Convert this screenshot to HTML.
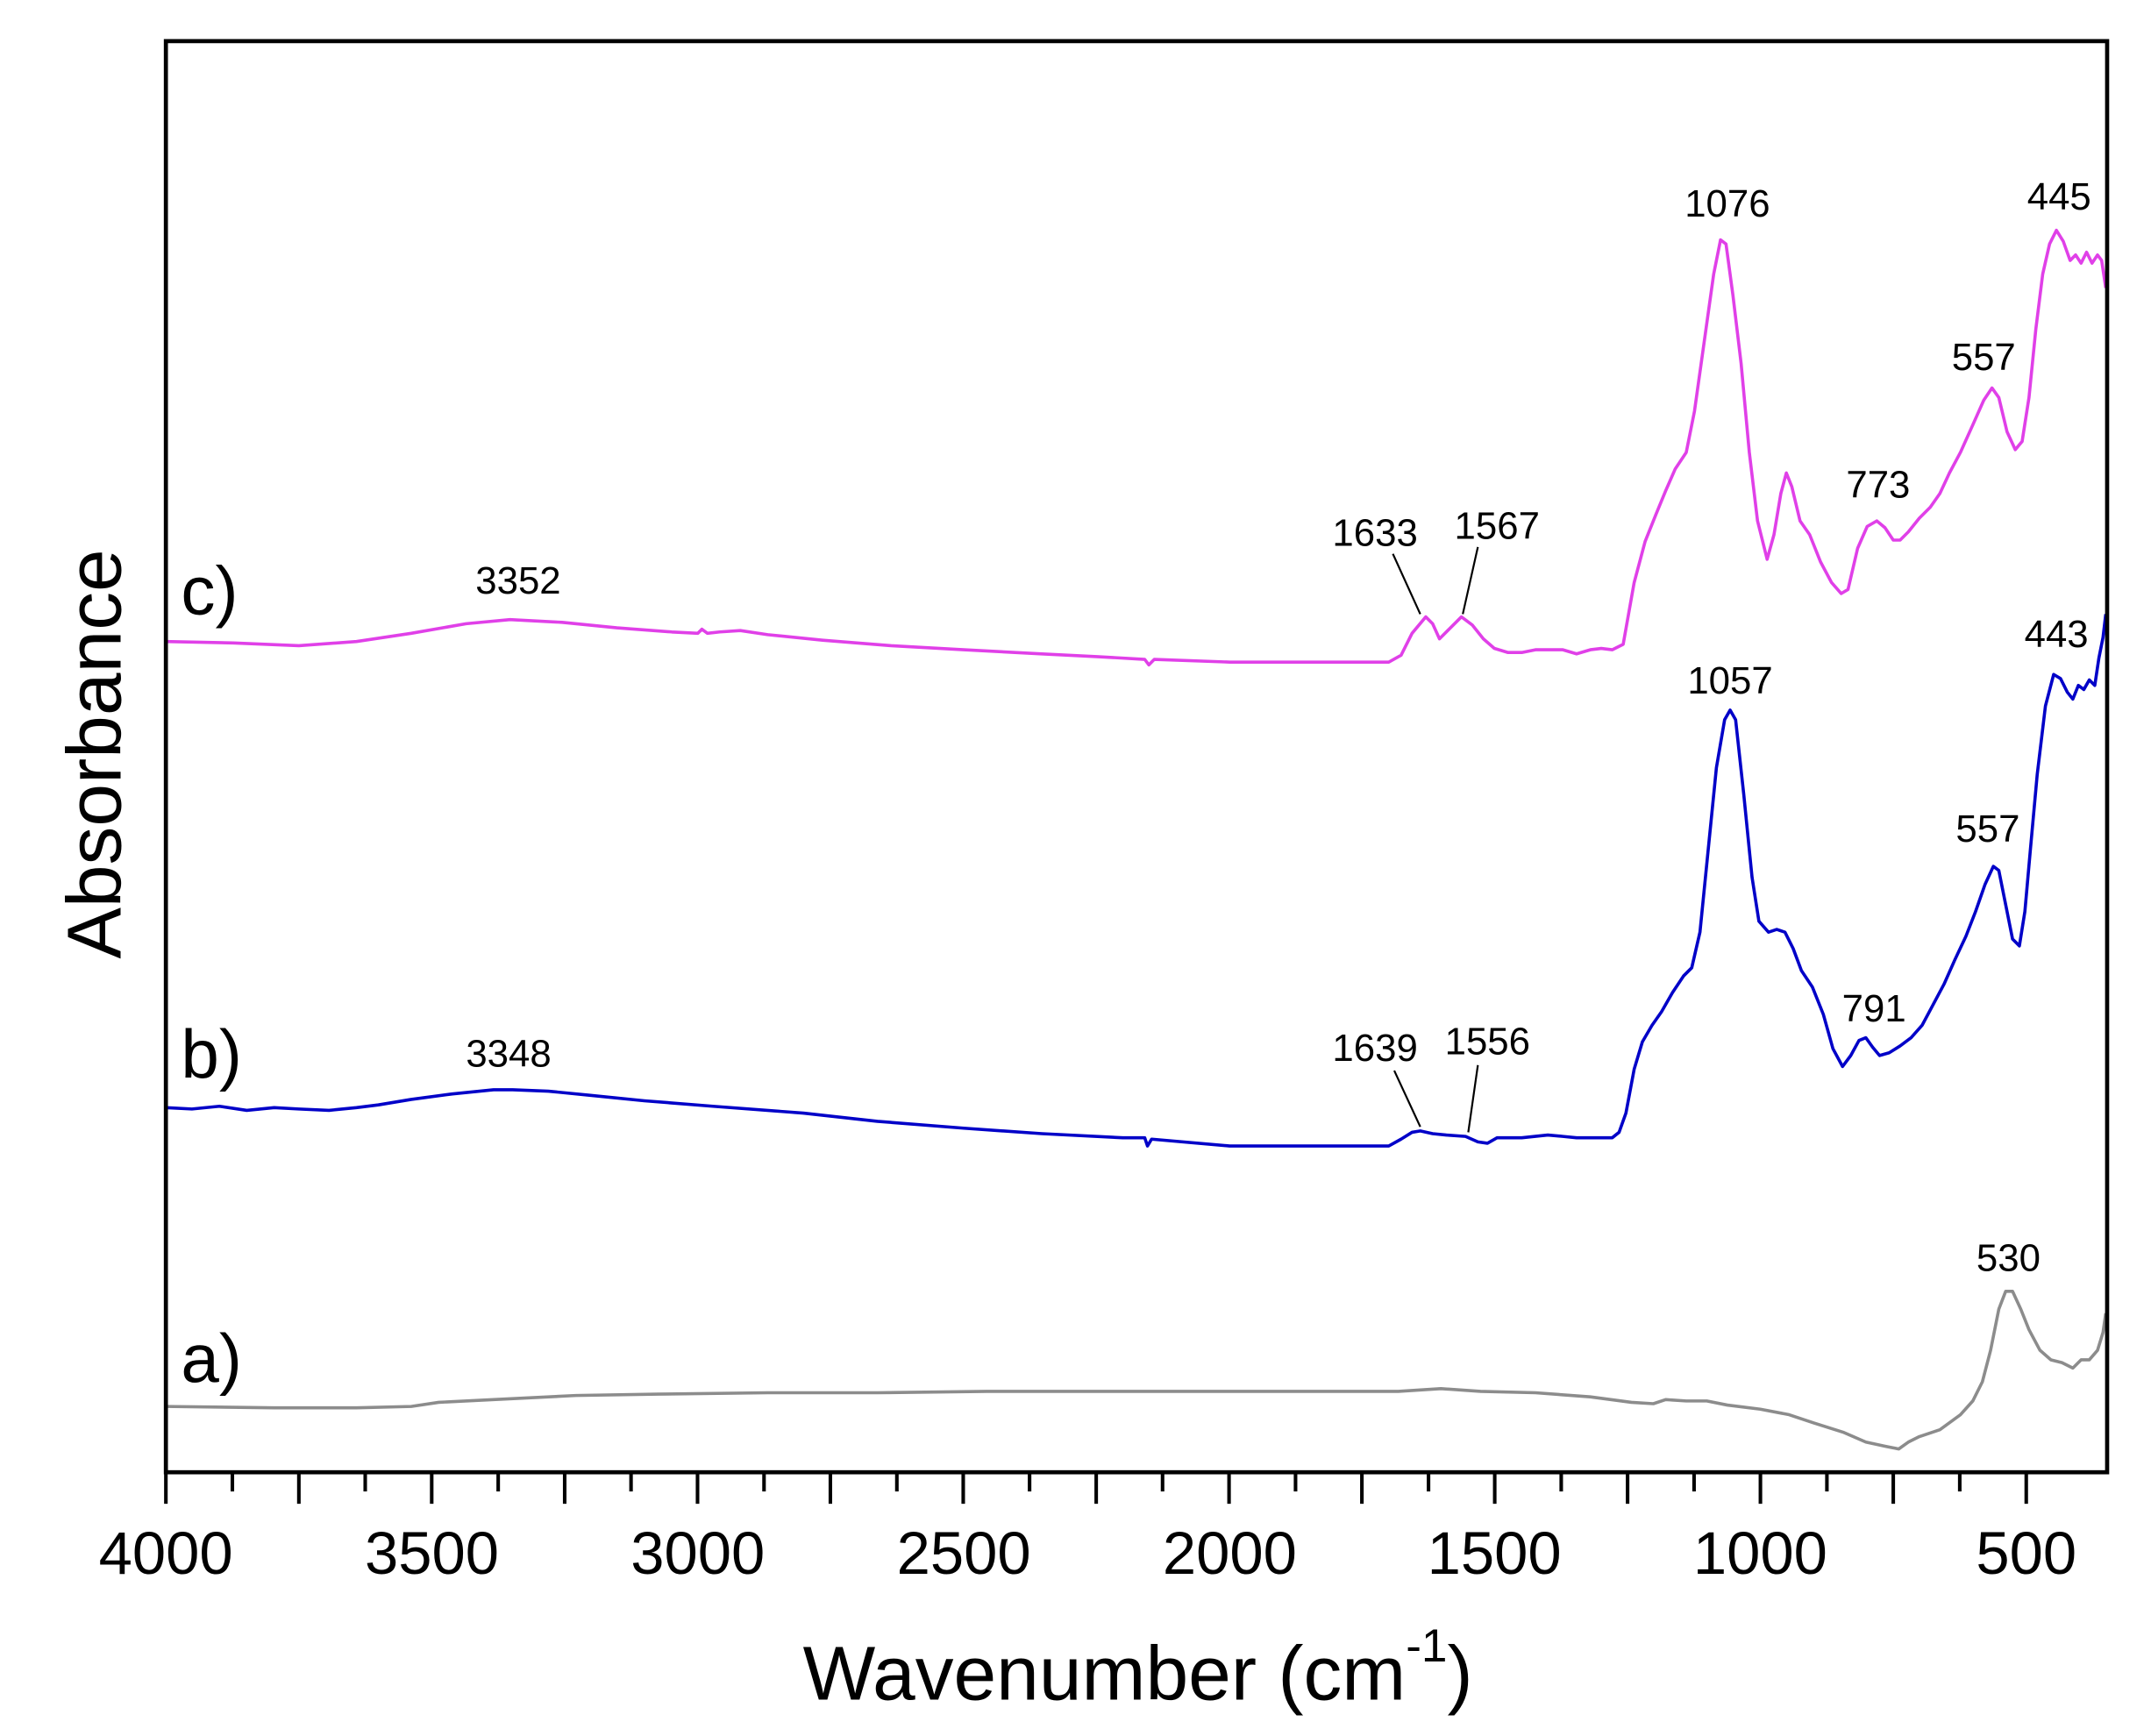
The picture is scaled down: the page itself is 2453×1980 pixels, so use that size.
<!DOCTYPE html>
<html><head><meta charset="utf-8"><style>
html,body{margin:0;padding:0;background:#fff;}
svg{display:block;}
text{font-family:"Liberation Sans",Arial,sans-serif;fill:#000;}
</style></head><body>
<svg width="2453" height="1980" viewBox="0 0 1569 1266.4" preserveAspectRatio="none" xmlns="http://www.w3.org/2000/svg">
<rect x="0" y="0" width="1569" height="1266.4" fill="#fff"/>
<!-- curves -->
<g fill="none" stroke-width="2.3" stroke-linejoin="round">
<path stroke="#e040e8" d="M121,468 L170,469 L218,471 L260,468 L300,462 L340,455 L372,452 L410,454 L450,458 L490,461 L509,462 L512,459 L516,462 L525,461 L540,460 L560,463 L600,467 L650,471 L703,474 L760,477 L800,479 L835,481 L838,485 L842,481 L897,483 L960,483 L1013,483 L1022,478 L1030,462 L1040,450 L1045,455 L1050,466 L1056,460 L1066,450 L1074,456 L1082,466 L1090,473 L1100,476 L1110,476 L1120,474 L1130,474 L1140,474 L1150,477 L1160,474 L1168,473 L1176,474 L1184,470 L1192,425 L1200,395 L1208,375 L1215,358 L1222,342 L1230,330 L1236,300 L1243,250 L1250,200 L1255,175 L1259,178 L1264,215 L1270,265 L1276,330 L1282,380 L1289,408 L1294,390 L1299,360 L1303,345 L1307,355 L1313,380 L1320,390 L1328,410 L1336,425 L1343,433 L1348,430 L1355,400 L1362,384 L1369,380 L1375,385 L1381,394 L1386,394 L1392,388 L1400,378 L1408,370 L1415,360 L1422,345 L1430,330 L1439,310 L1447,292 L1453,283 L1458,290 L1464,315 L1470,328 L1475,322 L1480,290 L1485,240 L1490,200 L1495,178 L1500,168 L1505,176 L1510,190 L1514,186 L1518,192 L1522,184 L1526,192 L1530,186 L1533,190 L1536,210"/>
<path stroke="#0000c8" d="M121,808 L140,809 L160,807 L180,810 L200,808 L218,809 L240,810 L260,808 L276,806 L300,802 L330,798 L360,795 L374,795 L400,796 L430,799 L470,803 L520,807 L586,812 L640,818 L703,823 L760,827 L819,830 L835,830 L837,836 L840,831 L897,836 L950,836 L1013,836 L1022,831 L1030,826 L1036,825 L1045,827 L1055,828 L1069,829 L1078,833 L1085,834 L1092,830 L1110,830 L1129,828 L1140,829 L1150,830 L1176,830 L1181,826 L1186,812 L1192,780 L1198,760 L1205,748 L1212,738 L1220,724 L1228,712 L1234,706 L1240,680 L1246,620 L1252,560 L1258,525 L1262,518 L1266,525 L1272,580 L1278,640 L1283,672 L1290,680 L1296,678 L1302,680 L1308,692 L1314,708 L1322,720 L1330,740 L1337,765 L1344,778 L1350,770 L1356,759 L1361,757 L1366,764 L1371,770 L1378,768 L1386,763 L1394,757 L1402,748 L1410,733 L1418,718 L1426,700 L1434,683 L1441,665 L1448,645 L1454,632 L1458,635 L1463,660 L1468,685 L1473,690 L1477,665 L1481,620 L1486,565 L1492,515 L1498,492 L1503,495 L1508,505 L1512,510 L1516,500 L1520,503 L1524,496 L1528,500 L1531,480 L1534,465 L1536,448"/>
<path stroke="#8c8c8c" d="M121,1026 L200,1027 L260,1027 L300,1026 L320,1023 L360,1021 L420,1018 L480,1017 L560,1016 L640,1016 L720,1015 L800,1015 L880,1015 L960,1015 L1020,1015 L1051,1013 L1080,1015 L1120,1016 L1160,1019 L1190,1023 L1206,1024 L1215,1021 L1230,1022 L1245,1022 L1260,1025 L1284,1028 L1305,1032 L1323,1038 L1345,1045 L1361,1052 L1375,1055 L1385,1057 L1392,1052 L1400,1048 L1415,1043 L1430,1032 L1439,1022 L1446,1008 L1452,985 L1458,955 L1463,942 L1468,942 L1474,955 L1480,970 L1488,985 L1496,992 L1504,994 L1512,998 L1518,992 L1524,992 L1530,985 L1534,972 L1536,958"/>
</g>
<!-- frame -->
<rect x="121" y="30" width="1416" height="1044" fill="none" stroke="#000" stroke-width="3"/>
<!-- ticks -->
<g stroke="#000" stroke-width="2.6">
<line x1="121" y1="1074" x2="121" y2="1097"/>
<line x1="169.5" y1="1074" x2="169.5" y2="1088"/>
<line x1="218" y1="1074" x2="218" y2="1097"/>
<line x1="266.4" y1="1074" x2="266.4" y2="1088"/>
<line x1="314.9" y1="1074" x2="314.9" y2="1097"/>
<line x1="363.4" y1="1074" x2="363.4" y2="1088"/>
<line x1="411.9" y1="1074" x2="411.9" y2="1097"/>
<line x1="460.3" y1="1074" x2="460.3" y2="1088"/>
<line x1="508.8" y1="1074" x2="508.8" y2="1097"/>
<line x1="557.3" y1="1074" x2="557.3" y2="1088"/>
<line x1="605.7" y1="1074" x2="605.7" y2="1097"/>
<line x1="654.2" y1="1074" x2="654.2" y2="1088"/>
<line x1="702.6" y1="1074" x2="702.6" y2="1097"/>
<line x1="751" y1="1074" x2="751" y2="1088"/>
<line x1="799.6" y1="1074" x2="799.6" y2="1097"/>
<line x1="848" y1="1074" x2="848" y2="1088"/>
<line x1="896.5" y1="1074" x2="896.5" y2="1097"/>
<line x1="945" y1="1074" x2="945" y2="1088"/>
<line x1="993.4" y1="1074" x2="993.4" y2="1097"/>
<line x1="1042" y1="1074" x2="1042" y2="1088"/>
<line x1="1090.3" y1="1074" x2="1090.3" y2="1097"/>
<line x1="1138.8" y1="1074" x2="1138.8" y2="1088"/>
<line x1="1187.2" y1="1074" x2="1187.2" y2="1097"/>
<line x1="1235.7" y1="1074" x2="1235.7" y2="1088"/>
<line x1="1284.1" y1="1074" x2="1284.1" y2="1097"/>
<line x1="1332.6" y1="1074" x2="1332.6" y2="1088"/>
<line x1="1381" y1="1074" x2="1381" y2="1097"/>
<line x1="1429.5" y1="1074" x2="1429.5" y2="1088"/>
<line x1="1478" y1="1074" x2="1478" y2="1097"/>
</g>
<g font-size="44" text-anchor="middle">
<text x="121" y="1148">4000</text>
<text x="315" y="1148">3500</text>
<text x="509" y="1148">3000</text>
<text x="703" y="1148">2500</text>
<text x="897" y="1148">2000</text>
<text x="1090" y="1148">1500</text>
<text x="1284" y="1148">1000</text>
<text x="1478" y="1148">500</text>
</g>
<text x="830" y="1240" font-size="56" text-anchor="middle">Wavenumber (cm<tspan font-size="34" dy="-28">-1</tspan><tspan dy="28">)</tspan></text>
<text transform="translate(88,550) rotate(-90)" font-size="56" text-anchor="middle">Absorbance</text>
<g font-size="50">
<text x="132" y="448">c)</text>
<text x="132" y="786">b)</text>
<text x="132" y="1008">a)</text>
</g>
<g font-size="28" text-anchor="middle">
<text x="378" y="433">3352</text>
<text x="1003" y="398">1633</text>
<text x="1092" y="393">1567</text>
<text x="1260" y="158">1076</text>
<text x="1370" y="363">773</text>
<text x="1447" y="270">557</text>
<text x="1502" y="153">445</text>
<text x="371" y="778">3348</text>
<text x="1003" y="774">1639</text>
<text x="1085" y="769">1556</text>
<text x="1262" y="506">1057</text>
<text x="1367" y="745">791</text>
<text x="1450" y="614">557</text>
<text x="1500" y="472">443</text>
<text x="1465" y="927">530</text>
</g>
<g stroke="#000" stroke-width="1.4">
<line x1="1016" y1="404" x2="1036" y2="448"/>
<line x1="1078" y1="399" x2="1067" y2="448"/>
<line x1="1017" y1="781" x2="1036" y2="822"/>
<line x1="1078" y1="777" x2="1071" y2="826"/>
</g>
</svg>
</body></html>
